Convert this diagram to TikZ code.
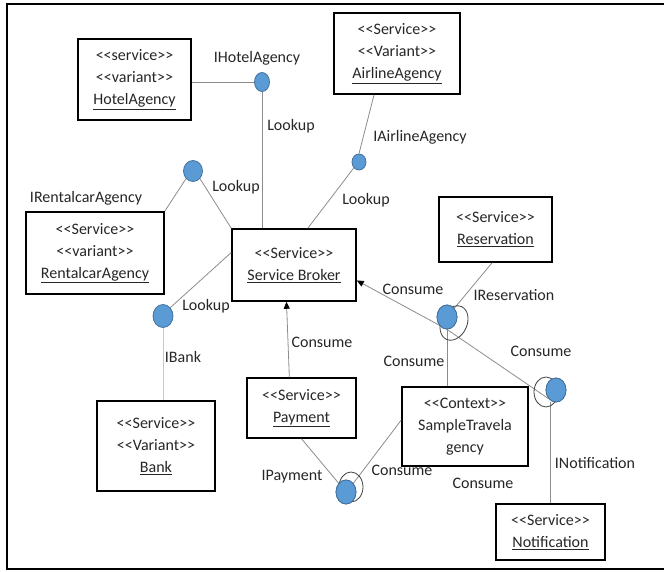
\documentclass[tikz,border=0pt]{standalone}
\usepackage{fontspec}
\newfontfamily\cf{Carlito}
\usetikzlibrary{shapes.geometric,arrows.meta,calc}

\definecolor{ifcfill}{RGB}{91,155,213}
\definecolor{ifcedge}{RGB}{65,113,156}
\definecolor{wire}{RGB}{140,140,140}
\definecolor{faintwire}{RGB}{200,200,200}

\tikzset{
  every node/.style={font=\cf\fontsize{16}{22}\selectfont, text=black!85},
  comp/.style={draw=black, line width=1.5pt, align=center, inner sep=0pt},
  ifc/.style={ellipse, draw=ifcedge, line width=0.8pt, fill=ifcfill, inner sep=0pt},
  wire/.style={draw=wire, line width=0.8pt},
  loop/.style={draw=black!75, line width=0.8pt},
  tip/.style={-{Triangle[length=7pt,width=6pt,color=black]}},
  lbl/.style={inner sep=0pt}
}

\begin{document}
\begin{tikzpicture}[x=1pt,y=-1pt]
\useasboundingbox (0,0) rectangle (664,571);
\clip (0,0) rectangle (664,571);

% outer frame (right edge runs past the page)
\draw[line width=2pt] (680,4) -- (7,4) -- (7,569) -- (680,569);

% components
\node[comp, minimum width=113, minimum height=81] (hotel) at (134.5,79.5)
  {<<service>>\\<<variant>>\\\underline{HotelAgency}};
\node[comp, minimum width=126, minimum height=81] (airline) at (397,53.5)
  {<<Service>>\\<<Variant>>\\\underline{AirlineAgency}};
\node[comp, minimum width=138, minimum height=82] (rental) at (95,253)
  {<<Service>>\\<<variant>>\\\underline{RentalcarAgency}};
\node[comp, minimum width=124, minimum height=72] (broker) at (294,265)
  {<<Service>>\\\underline{Service Broker}};
\node[comp, minimum width=113, minimum height=65] (reserv) at (495.5,229.5)
  {<<Service>>\\\underline{Reservation}};
\node[comp, minimum width=118, minimum height=90] (bank) at (156,446)
  {<<Service>>\\<<Variant>>\\\underline{Bank}};
\node[comp, minimum width=109, minimum height=60] (pay) at (301.5,408)
  {<<Service>>\\\underline{Payment}};
\node[comp, minimum width=126, minimum height=79] (ctx) at (465,426.5)
  {<<Context>>\\SampleTravela\\gency};
\node[comp, minimum width=109, minimum height=56] (notif) at (550.5,532)
  {<<Service>>\\\underline{Notification}};

% interface lollipops
\node[ifc, minimum width=15, minimum height=19] (ihotel) at (262,82) {};
\node[ifc, minimum width=19, minimum height=21] (irental) at (193,171) {};
\node[ifc, minimum width=14, minimum height=16] (iairline) at (359,162) {};
\node[ifc, minimum width=20, minimum height=23] (ibank) at (163,316) {};
\node[ifc, minimum width=20, minimum height=24] (ires) at (447,317) {};
\node[ifc, minimum width=20, minimum height=24] (inotif) at (556,390) {};
\node[ifc, minimum width=20, minimum height=24] (ipay) at (346,492) {};

% connectors
\draw[wire] (hotel.east |- ihotel) -- (ihotel.west);
\draw[wire] (ihotel.south) -- (ihotel.south |- broker.north);
\draw[wire] (irental.south west) -- (rental.north east);
\draw[wire] (irental.south east) -- (broker.north west);
\draw[wire] (iairline.south west) -- ($(broker.north west)!0.61!(broker.north east)$);
\draw[wire] (iairline.north) -- ($(airline.south west)!0.32!(airline.south east)$);
\draw[wire] ($(broker.north west)!0.33!(broker.south west)$) -- (ibank.north east);
\draw[draw=faintwire, line width=0.8pt] (ibank.south) -- (ibank.south |- bank.north);
\draw[wire, tip] ($(pay.north west)!0.39!(pay.north east)$) -- ($(broker.south west)!0.44!(broker.south east)$);
\draw[wire, tip] (ires.south) -- ($(broker.north east)!0.71!(broker.south east)$);
\draw[wire] (ires.south) -- (inotif.south west);
\draw[wire] (ires.north east) -- ($(reserv.south west)!0.47!(reserv.south east)$);
\draw[wire] (ires.south) -- (ires.south |- ctx.north);
\draw[wire] (notif.north) -- (notif.north |- inotif.south);
\draw[wire] (pay.south) -- (ipay.north west);
\draw[wire] (ipay.north east) -- ($(ctx.north west)!0.42!(ctx.south west)$);

% open loops around the consumed interfaces
\draw[loop] (454,323) ellipse [x radius=13, y radius=18, rotate=-25];
\draw[loop] (546,392) ellipse [x radius=12, y radius=15];
\draw[loop] (351,487) ellipse [x radius=12, y radius=15];

% redraw lollipops above the loops
\node[ifc, minimum width=20, minimum height=24] at (ires) {};
\node[ifc, minimum width=20, minimum height=24] at (inotif) {};
\node[ifc, minimum width=20, minimum height=24] at (ipay) {};

% labels
\node[lbl] (lhotel) at (257,58) {IHotelAgency};
\node[lbl] (lk1) at (291,126) {Lookup};
\node[lbl] (lk2) at (236,187) {Lookup};
\node[lbl] (lrental) at (86,198) {IRentalcarAgency};
\node[lbl] (lair) at (420,137) {IAirlineAgency};
\node[lbl] (lk3) at (366,200) {Lookup};
\node[lbl] (lk4) at (206,306) {Lookup};
\node[lbl] (lbank) at (183,357) {IBank};
\node[lbl] (c1) at (322,342) {Consume};
\node[lbl] (c2) at (413,289) {Consume};
\node[lbl] (lres) at (514,295) {IReservation};
\node[lbl] (c3) at (541,351) {Consume};
\node[lbl] (c4) at (414,361) {Consume};
\node[lbl] (lnotif) at (595,463) {INotification};
\node[lbl] (c5) at (483,483) {Consume};
\node[lbl] (c6) at (402,470) {Consume};
\node[lbl] (lpay) at (292,477) {IPayment};
\end{tikzpicture}
\end{document}
